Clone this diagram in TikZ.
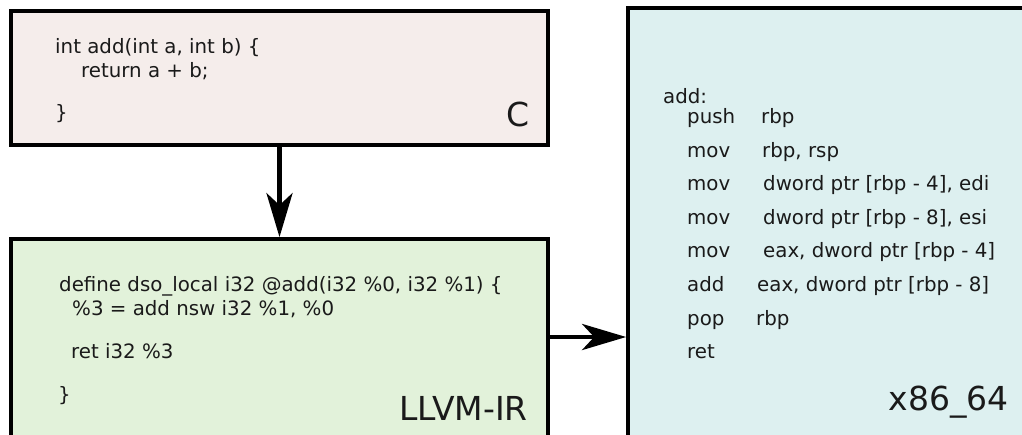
\documentclass[tikz,border=0pt]{standalone}
\usepackage{fontspec}
\setmainfont{DejaVu Sans}
\usetikzlibrary{arrows.meta}
\definecolor{srcfill}{HTML}{F5EDEB}
\definecolor{irfill}{HTML}{E2F2DA}
\definecolor{asmfill}{HTML}{DDF0F0}
\definecolor{codeink}{HTML}{1A1A1A}
\begin{document}
\begin{tikzpicture}[x=1pt,y=-1pt,
  panel/.style={draw=black, line width=3.7pt, inner sep=0pt},
  code/.style={anchor=base west, inner sep=0pt, text=codeink,
    font=\fontsize{19.8}{24}\selectfont},
  lang/.style={anchor=base east, inner sep=0pt, text=codeink,
    font=\fontsize{33}{38}\selectfont},
  flow/.style={line width=4.8pt,
    -{Stealth[length=44pt,width=26pt,inset=12pt]}}]
\useasboundingbox (0,0) rectangle (1022,434);
\clip (0,0) rectangle (1022,434);

% the three panels
\node[panel, fill=srcfill, minimum width=537pt, minimum height=134pt]
  (src) at (279.5,78) {};
\node[panel, fill=irfill, minimum width=537pt, minimum height=241pt]
  (ir) at (279.5,359.5) {};
\node[panel, fill=asmfill, minimum width=452pt, minimum height=472pt]
  (asm) at (854,244) {};

% C source
\node[code] (c1) at (55,53) {int add(int a, int b) \{};
\node[code] (c2) at (81,77) {return a + b;};
\node[code] (c3) at (55,119) {\}};
\node[lang] (clab) at (530,126) {C};

% LLVM IR
\node[code] (l1) at (59,291) {define dso\_local i32 @add(i32 \%0, i32 \%1) \{};
\node[code] (l2) at (72,315) {\%3 = add nsw i32 \%1, \%0};
\node[code] (l3) at (71,358) {ret i32 \%3};
\node[code] (l4) at (58,401) {\}};
\node[lang] (llab) at (528,420) {LLVM-IR};

% x86-64 assembly
\node[code] (a0) at (663,103) {add:};
\node[code] (a1) at (687,123) {push};
\node[code] (o1) at (761,123) {rbp};
\node[code] (a2) at (687,157) {mov};
\node[code] (o2) at (762,157) {rbp, rsp};
\node[code] (a3) at (687,190) {mov};
\node[code] (o3) at (763,190) {dword ptr [rbp - 4], edi};
\node[code] (a4) at (687,224) {mov};
\node[code] (o4) at (763,224) {dword ptr [rbp - 8], esi};
\node[code] (a5) at (687,257) {mov};
\node[code] (o5) at (763,257) {eax, dword ptr [rbp - 4]};
\node[code] (a6) at (687,291) {add};
\node[code] (o6) at (757,291) {eax, dword ptr [rbp - 8]};
\node[code] (a7) at (687,325) {pop};
\node[code] (o7) at (756,325) {rbp};
\node[code] (a8) at (687,358) {ret};
\node[lang] (alab) at (1009,410) {x86\_64};

% compilation steps
\coordinate (lower) at (588,337);
\draw[flow] (src.south) -- (ir.north);
\draw[flow] (lower -| ir.east) -- (lower -| asm.west);
\end{tikzpicture}
\end{document}
